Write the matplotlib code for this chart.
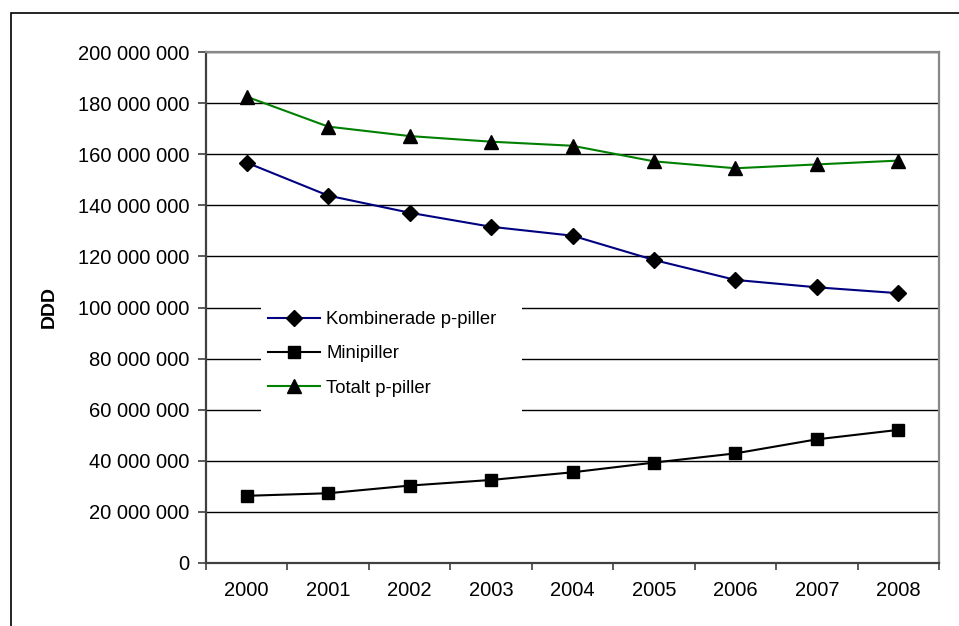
import numpy as np
import matplotlib
matplotlib.use("Agg")
import matplotlib.pyplot as plt
from matplotlib.patches import Rectangle
from matplotlib.ticker import FuncFormatter, FixedLocator

plt.rcParams['font.family'] = ['Liberation Sans', 'DejaVu Sans']

# Dygnsdoser per år
years = ['2000', '2001', '2002', '2003', '2004', '2005', '2006', '2007', '2008']
kombinerade = [156.7e6, 143.8e6, 137.1e6, 131.6e6, 128.1e6, 118.6e6, 110.8e6, 107.9e6, 105.6e6]
minipiller = [26.3e6, 27.3e6, 30.3e6, 32.5e6, 35.5e6, 39.3e6, 42.9e6, 48.4e6, 52.1e6]
totalt = [182.5e6, 170.8e6, 167.1e6, 164.9e6, 163.3e6, 157.2e6, 154.5e6, 156.0e6, 157.5e6]

fig = plt.figure(figsize=(9.59, 6.26), dpi=100)
ax = fig.add_axes([206/959, 63/626, 733/959, 511/626])

x = np.arange(len(years))
ax.plot(x, kombinerade, color='#000080', lw=1.5, marker='D', ms=8,
        mfc='black', mec='black', label='Kombinerade p-piller', zorder=3)
ax.plot(x, minipiller, color='black', lw=1.5, marker='s', ms=8,
        mfc='black', mec='black', label='Minipiller', zorder=3)
ax.plot(x, totalt, color='#008000', lw=1.5, marker='^', ms=10,
        mfc='black', mec='black', label='Totalt p-piller', zorder=3)

ax.set_xlim(-0.5, len(years) - 0.5)
ax.set_ylim(0, 200e6)
ax.set_yticks(np.arange(0, 200e6 + 1, 20e6))
ax.yaxis.set_major_formatter(FuncFormatter(lambda v, p: f"{v:,.0f}".replace(",", " ")))

# kategorietiketter mellan tickstrecken
ax.set_xticks(x)
ax.set_xticklabels(years)
ax.xaxis.set_minor_locator(FixedLocator(np.arange(-0.5, len(years), 1.0)))
ax.tick_params(axis='x', which='major', length=0, pad=13, labelsize=14.5)
ax.tick_params(axis='x', which='minor', length=5, width=1.2, color='#404040')
ax.tick_params(axis='y', length=6, width=1.2, color='#404040', pad=6, labelsize=14.5)

ax.grid(axis='y', color='black', lw=1)
ax.set_axisbelow(True)
for side in ['left', 'bottom']:
    ax.spines[side].set_color('#404040')
    ax.spines[side].set_linewidth(1.6)
for side in ['top', 'right']:
    ax.spines[side].set_color('#888888')
    ax.spines[side].set_linewidth(1.6)

ax.set_ylabel('DDD', fontsize=14, fontweight='bold')
ax.yaxis.set_label_coords(-148/733, 0.5)

# vit bakgrund bakom förklaringen
ax.add_patch(Rectangle((261/959, (626-420)/626), 261/959, 135/626,
                       transform=fig.transFigure, facecolor='white',
                       edgecolor='none', zorder=1))
ax.legend(loc='upper left', bbox_to_anchor=(268/959, (626-311)/626),
          bbox_transform=fig.transFigure, frameon=False, fontsize=13.3,
          borderpad=0, borderaxespad=0, handlelength=2.8, handletextpad=0.35,
          labelspacing=0.94)

# ram runt figuren
fig.patches.append(Rectangle((10.7/959, -0.2), 1.2, (626-13.3)/626 + 0.2,
                             transform=fig.transFigure, facecolor='none',
                             edgecolor='black', lw=1.2))

fig.savefig('out.png', dpi=100)
